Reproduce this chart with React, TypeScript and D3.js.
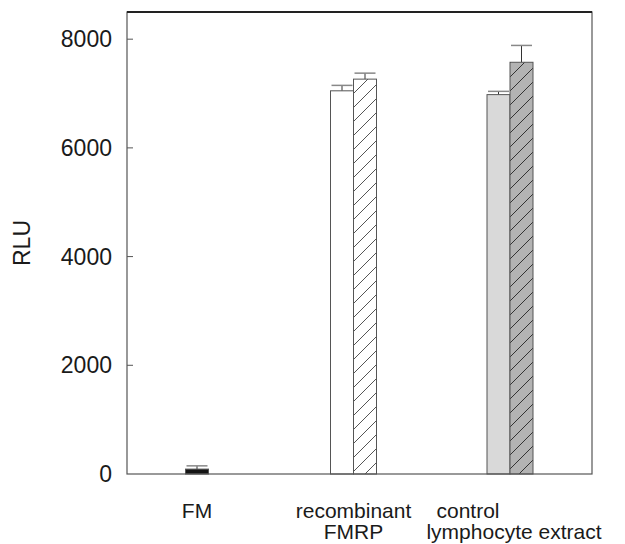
import * as d3 from 'd3'

const W = 625
const H = 544
const M = { top: 12, right: 33, bottom: 70, left: 127 }

const groups = ['FM', 'recombinant FMRP', 'control lymphocyte extract']
const groupLabels = [['FM'], ['recombinant', 'FMRP'], ['control', 'lymphocyte extract']]

// one list per group: mean RLU, error, bar style
const means = [[90], [7050, 7265], [6980, 7575]]
const errors = [[60], [100, 110], [60, 310]]
const styles = [['black'], ['white', 'hatch'], ['grey', 'greyHatch']]

const yTicks = [0, 2000, 4000, 6000, 8000]

const BAR_W = 23
const FONT = '"Liberation Sans", Arial, sans-serif'

const fills: Record<string, string> = {
  black: '#141414',
  white: '#ffffff',
  hatch: 'url(#hatchWhite)',
  grey: '#d9d9d9',
  greyHatch: 'url(#hatchGrey)',
}

export default function App() {
  const innerW = W - M.left - M.right
  const innerH = H - M.top - M.bottom

  const x = d3.scalePoint<string>().domain(groups).range([70, innerW - 82])
  const y = d3.scaleLinear().domain([0, 8500]).range([innerH, 0])

  // control label first line sits left of the group centre in the original
  const lineDx = [[0], [0, 0], [-42, 4]]

  return (
    <svg width={W} height={H} style={{ position: 'absolute', left: 0, top: 0 }} fontFamily={FONT}>
      <defs>
        <pattern id="hatchWhite" patternUnits="userSpaceOnUse" width={14} height={14}>
          <rect width={14} height={14} fill="#ffffff" />
          <path d="M0,14 L14,0 M-2,2 L2,-2 M12,16 L16,12" stroke="#555" strokeWidth={1} />
        </pattern>
        <pattern id="hatchGrey" patternUnits="userSpaceOnUse" width={14} height={14}>
          <rect width={14} height={14} fill="#b3b3b3" />
          <path d="M0,14 L14,0 M-2,2 L2,-2 M12,16 L16,12" stroke="#333" strokeWidth={1} />
        </pattern>
      </defs>
      <g transform={`translate(${M.left},${M.top})`}>
        {groups.map((g, gi) => {
          const n = means[gi].length
          const cx = x(g)!
          return means[gi].map((v, bi) => {
            const x0 = cx - (n * BAR_W) / 2 + bi * BAR_W
            const xm = x0 + BAR_W / 2
            const top = y(v)
            const errTop = y(v + errors[gi][bi])
            return (
              <g key={`${gi}-${bi}`}>
                <line x1={xm} x2={xm} y1={top} y2={errTop} stroke="#333" strokeWidth={1} />
                <line x1={x0 + 1} x2={x0 + BAR_W - 1} y1={errTop} y2={errTop} stroke="#888" strokeWidth={1.5} />
                <rect
                  x={x0}
                  y={top}
                  width={BAR_W}
                  height={innerH - top}
                  fill={fills[styles[gi][bi]]}
                  stroke="#555"
                  strokeWidth={1}
                />
              </g>
            )
          })
        })}

        {yTicks.map((t) => (
          <g key={t} transform={`translate(0,${y(t)})`}>
            {t > 0 && <line x1={0} x2={6} stroke="#555" strokeWidth={1} />}
            <text x={-15} dy="0.35em" textAnchor="end" fontSize={23} fill="#1a1a1a">
              {t}
            </text>
          </g>
        ))}

        <rect x={0} y={0} width={innerW} height={innerH} fill="none" stroke="#555" strokeWidth={1.2} />
        <line x1={0} x2={innerW} y1={0} y2={0} stroke="#222" strokeWidth={2} />

        {groups.map((g, gi) => (
          <text key={g} x={x(g)!} y={innerH + 44} textAnchor="middle" fontSize={21} fill="#1a1a1a">
            {groupLabels[gi].map((ln, li) => (
              <tspan key={li} x={x(g)! + lineDx[gi][li]} dy={li === 0 ? 0 : 21}>
                {ln}
              </tspan>
            ))}
          </text>
        ))}
      </g>
      <text
        transform={`translate(30,${M.top + innerH / 2}) rotate(-90)`}
        textAnchor="middle"
        fontSize={23}
        fill="#1a1a1a"
      >
        RLU
      </text>
    </svg>
  )
}
